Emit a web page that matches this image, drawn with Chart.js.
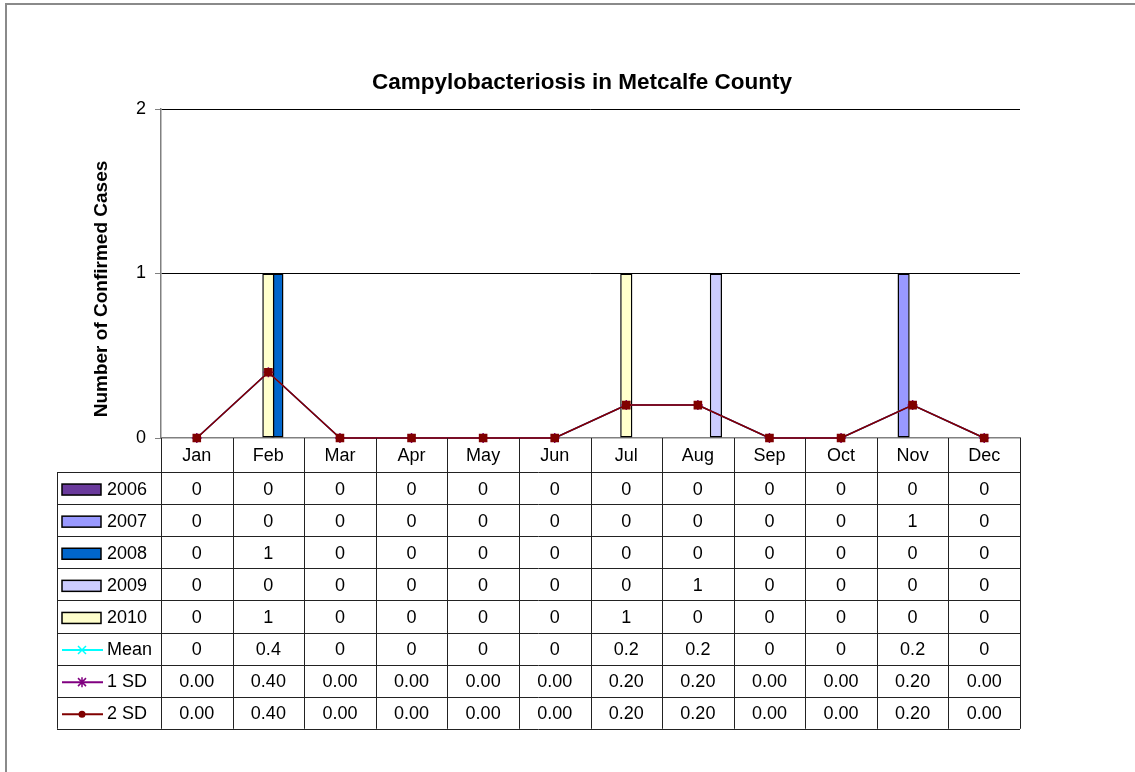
<!DOCTYPE html>
<html>
<head>
<meta charset="utf-8">
<title>Campylobacteriosis in Metcalfe County</title>
<script src="https://cdn.jsdelivr.net/npm/chart.js@4.4.0/dist/chart.umd.min.js"></script>
<style>
    html, body { margin: 0; padding: 0; background: #fff; }
</style>
</head>
<body>
<canvas id="chart" width="1135" height="772"></canvas>
<script>
// DATA //

const months = ["Jan", "Feb", "Mar", "Apr", "May", "Jun", "Jul", "Aug", "Sep", "Oct", "Nov", "Dec"];
const cases2006 = [0, 0, 0, 0, 0, 0, 0, 0, 0, 0, 0, 0];
const cases2007 = [0, 0, 0, 0, 0, 0, 0, 0, 0, 0, 1, 0];
const cases2008 = [0, 1, 0, 0, 0, 0, 0, 0, 0, 0, 0, 0];
const cases2009 = [0, 0, 0, 0, 0, 0, 0, 1, 0, 0, 0, 0];
const cases2010 = [0, 1, 0, 0, 0, 0, 1, 0, 0, 0, 0, 0];
const meanValues = [0, 0.4, 0, 0, 0, 0, 0.2, 0.2, 0, 0, 0.2, 0];
const sd1Values = [0, 0.4, 0, 0, 0, 0, 0.2, 0.2, 0, 0, 0.2, 0];
const sd2Values = [0, 0.4, 0, 0, 0, 0, 0.2, 0.2, 0, 0, 0.2, 0];
const yTicks = [0, 1, 2];

const FONT = '"Liberation Sans", Arial, sans-serif';

const colors = {
    y2006: '#6a3a9c',
    y2007: '#9999ff',
    y2008: '#0066cc',
    y2009: '#ccccff',
    y2010: '#ffffcc',
    mean: '#00ffff',
    sd1: '#800080',
    sd2: '#800000'
};

// bar datasets - Excel put 2010 in the middle slot, so the order is not by year
function barSet(label, data, color) {
    return {
        type: 'bar',
        label: label,
        data: data,
        backgroundColor: color,
        borderColor: '#000',
        borderWidth: 1.5,
        borderSkipped: false,
        categoryPercentage: 0.63,
        barPercentage: 1.35,
        order: 1
    };
}

function lineSet(label, data, color, pointStyle, radius) {
    return {
        type: 'line',
        label: label,
        data: data,
        borderColor: color,
        backgroundColor: color,
        borderWidth: 1.5,
        pointStyle: pointStyle,
        pointRadius: radius,
        pointBorderColor: color,
        pointBorderWidth: 1.5,
        clip: false,
        order: 0
    };
}

const datasets = [
    lineSet('2 SD', sd2Values, colors.sd2, 'rect', 5),
    lineSet('1 SD', sd1Values, colors.sd1, 'star', 5),
    lineSet('Mean', meanValues, colors.mean, 'crossRot', 5),
    barSet('2006', cases2006, colors.y2006),
    barSet('2007', cases2007, colors.y2007),
    barSet('2010', cases2010, colors.y2010),
    barSet('2008', cases2008, colors.y2008),
    barSet('2009', cases2009, colors.y2009)
];

// table rows under the plot (legend key + values)
const tableRows = [
    { label: '2006', values: cases2006, key: 'box', color: colors.y2006, fmt: v => String(v) },
    { label: '2007', values: cases2007, key: 'box', color: colors.y2007, fmt: v => String(v) },
    { label: '2008', values: cases2008, key: 'box', color: colors.y2008, fmt: v => String(v) },
    { label: '2009', values: cases2009, key: 'box', color: colors.y2009, fmt: v => String(v) },
    { label: '2010', values: cases2010, key: 'box', color: colors.y2010, fmt: v => String(v) },
    { label: 'Mean', values: meanValues, key: 'cross', color: colors.mean, fmt: v => String(v) },
    { label: '1 SD', values: sd1Values, key: 'star', color: colors.sd1, fmt: v => v.toFixed(2) },
    { label: '2 SD', values: sd2Values, key: 'dot', color: colors.sd2, fmt: v => v.toFixed(2) }
];

const TABLE_LEFT = 57;
const HEADER_BOTTOM = 472;
const ROW_H = 32.1;

function drawKey(ctx, row, cy) {
    ctx.save();
    if (row.key === 'box') {
        ctx.fillStyle = row.color;
        ctx.strokeStyle = '#000';
        ctx.lineWidth = 1.5;
        ctx.fillRect(62, cy - 5.5, 39, 11);
        ctx.strokeRect(62, cy - 5.5, 39, 11);
    } else {
        ctx.strokeStyle = row.color;
        ctx.fillStyle = row.color;
        ctx.lineWidth = 2;
        ctx.beginPath();
        ctx.moveTo(62, cy);
        ctx.lineTo(103, cy);
        ctx.stroke();
        const mx = 82;
        ctx.lineWidth = 1.5;
        if (row.key === 'cross') {
            ctx.beginPath();
            ctx.moveTo(mx - 4, cy - 4); ctx.lineTo(mx + 4, cy + 4);
            ctx.moveTo(mx - 4, cy + 4); ctx.lineTo(mx + 4, cy - 4);
            ctx.stroke();
        } else if (row.key === 'star') {
            ctx.beginPath();
            ctx.moveTo(mx - 4, cy - 4); ctx.lineTo(mx + 4, cy + 4);
            ctx.moveTo(mx - 4, cy + 4); ctx.lineTo(mx + 4, cy - 4);
            ctx.moveTo(mx, cy - 5); ctx.lineTo(mx, cy + 5);
            ctx.stroke();
        } else {
            ctx.beginPath();
            ctx.arc(mx, cy, 3.5, 0, Math.PI * 2);
            ctx.fill();
        }
    }
    ctx.restore();
}

const dataTablePlugin = {
    id: 'dataTable',
    afterDraw(chart) {
        const ctx = chart.ctx;
        const area = chart.chartArea;
        const xScale = chart.scales.x;
        const catW = area.width / months.length;
        const tableBottom = HEADER_BOTTOM + ROW_H * tableRows.length;

        ctx.save();

        // frame of the chart object
        ctx.strokeStyle = '#8a8a8a';
        ctx.lineWidth = 2;
        ctx.beginPath();
        ctx.moveTo(6, 772);
        ctx.lineTo(6, 4);
        ctx.lineTo(1135, 4);
        ctx.stroke();

        // title
        ctx.fillStyle = '#000';
        ctx.font = 'bold 22.5px ' + FONT;
        ctx.textAlign = 'center';
        ctx.textBaseline = 'middle';
        ctx.fillText('Campylobacteriosis in Metcalfe County', 582, 83);

        // y axis title
        ctx.save();
        ctx.translate(102, 289);
        ctx.rotate(-Math.PI / 2);
        ctx.font = 'bold 19px ' + FONT;
        ctx.fillText('Number of Confirmed Cases', 0, 0);
        ctx.restore();

        // table grid
        ctx.strokeStyle = '#222';
        ctx.lineWidth = 1;
        ctx.beginPath();
        for (let k = 0; k <= months.length; k++) {
            const bx = Math.round(area.left + k * catW) + 0.5;
            ctx.moveTo(bx, area.bottom);
            ctx.lineTo(bx, tableBottom);
        }
        for (let r = 0; r <= tableRows.length; r++) {
            const by = Math.round(HEADER_BOTTOM + r * ROW_H) + 0.5;
            ctx.moveTo(TABLE_LEFT, by);
            ctx.lineTo(area.right, by);
        }
        ctx.moveTo(TABLE_LEFT + 0.5, HEADER_BOTTOM);
        ctx.lineTo(TABLE_LEFT + 0.5, tableBottom);
        ctx.stroke();

        // table text
        ctx.font = '18px ' + FONT;
        ctx.fillStyle = '#000';
        tableRows.forEach((row, r) => {
            const cy = HEADER_BOTTOM + r * ROW_H + ROW_H / 2 + 1.5;
            drawKey(ctx, row, cy);
            ctx.textAlign = 'left';
            ctx.fillText(row.label, 107, cy);
            ctx.textAlign = 'center';
            row.values.forEach((v, i) => {
                ctx.fillText(row.fmt(v), xScale.getPixelForValue(i), cy);
            });
        });

        ctx.restore();
    }
};

// CHART //

const chart = new Chart(document.getElementById('chart'), {
    data: {
        labels: months,
        datasets: datasets
    },
    options: {
        responsive: false,
        animation: false,
        layout: {
            padding: { left: 80, top: 109, right: 115, bottom: 300 }
        },
        plugins: {
            legend: { display: false },
            title: { display: false },
            tooltip: { enabled: false }
        },
        scales: {
            x: {
                afterFit: s => { s.height = 34; },
                grid: { display: false, drawTicks: false },
                border: { color: '#808080', width: 1.5 },
                ticks: {
                    padding: 7,
                    color: '#000',
                    autoSkip: false,
                    maxRotation: 0,
                    font: { family: FONT, size: 18 }
                }
            },
            y: {
                min: 0,
                max: 2,
                afterFit: s => { s.width = 81; },
                afterBuildTicks: s => { s.ticks = yTicks.map(v => ({ value: v })); },
                grid: {
                    color: c => (c.tick && c.tick.value === 0) ? 'rgba(0,0,0,0)' : '#000',
                    tickColor: '#808080',
                    tickLength: 6,
                    lineWidth: 1
                },
                border: { color: '#808080', width: 1.5 },
                ticks: {
                    padding: 9,
                    color: '#000',
                    font: { family: FONT, size: 18 }
                }
            }
        }
    },
    plugins: [dataTablePlugin]
});
</script>
</body>
</html>
